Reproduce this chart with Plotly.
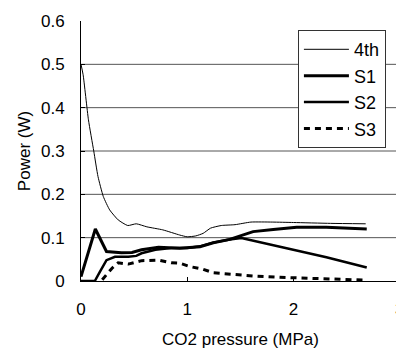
import plotly.graph_objects as go

# Data
x_4th = [0, 0.02, 0.07, 0.12, 0.16, 0.21, 0.27, 0.35, 0.44, 0.52, 0.62, 0.77, 0.93, 1.0, 1.08, 1.15,
         1.22, 1.32, 1.45, 1.6, 1.8, 2.0, 2.35, 2.68]
y_4th = [0.5, 0.476, 0.372, 0.3, 0.241, 0.195, 0.164, 0.141, 0.128, 0.132, 0.125, 0.118, 0.106, 0.102,
         0.104, 0.11, 0.122, 0.128, 0.13, 0.136, 0.136, 0.135, 0.133, 0.132]

x_s1 = [0, 0.135, 0.24, 0.38, 0.48, 0.57, 0.73, 0.93, 1.12, 1.245, 1.40, 1.50, 1.62, 1.81, 2.03, 2.31, 2.69]
y_s1 = [0.01, 0.12, 0.068, 0.065, 0.066, 0.072, 0.078, 0.0755, 0.079, 0.088, 0.096, 0.104, 0.114,
        0.119, 0.124, 0.124, 0.12]

x_s2 = [0, 0.13, 0.18, 0.24, 0.32, 0.445, 0.52, 0.57, 0.7, 0.85, 1.0, 1.12, 1.245, 1.40, 1.51, 1.72,
        1.97, 2.31, 2.69]
y_s2 = [0, 0, 0.022, 0.048, 0.056, 0.056, 0.058, 0.064, 0.072, 0.076, 0.076, 0.08, 0.089, 0.096, 0.099,
        0.087, 0.073, 0.055, 0.031]

x_s3 = [0.2, 0.226, 0.29, 0.35, 0.445, 0.57, 0.73, 0.85, 0.93, 1.03, 1.15, 1.245, 1.43, 1.62, 1.87,
        2.12, 2.4, 2.69]
y_s3 = [0.003, 0.01, 0.029, 0.042, 0.039, 0.047, 0.048, 0.042, 0.041, 0.033, 0.027, 0.019, 0.015,
        0.0115, 0.0085, 0.006, 0.004, 0.002]

y_ticks = [0, 0.1, 0.2, 0.3, 0.4, 0.5, 0.6]
y_tick_text = ["0", "0.1", "0.2", "0.3", "0.4", "0.5", "0.6"]
x_ticks = [0, 1, 2, 3]
x_tick_text = ["0", "1", "2", "3"]
grid_levels = [0.1, 0.2, 0.3, 0.4, 0.5]

FONT = "Liberation Sans, Arial, sans-serif"

fig = go.Figure()
fig.add_trace(go.Scatter(x=x_4th, y=y_4th, mode="lines", name="4th", legendgroup="a",
                         line=dict(color="black", width=1, shape="spline", smoothing=0.5)))
fig.add_trace(go.Scatter(x=x_s1, y=y_s1, mode="lines", name="S1", legendgroup="b",
                         line=dict(color="black", width=3)))
fig.add_trace(go.Scatter(x=x_s2, y=y_s2, mode="lines", name="S2", legendgroup="c",
                         line=dict(color="black", width=2.5)))
fig.add_trace(go.Scatter(x=x_s3, y=y_s3, mode="lines", name="S3", legendgroup="d",
                         line=dict(color="black", width=3, dash="6px,5px")))

for g in grid_levels:
    fig.add_shape(type="line", xref="paper", yref="y", x0=0, x1=1, y0=g, y1=g,
                  line=dict(color="#555555", width=1), layer="below")

fig.update_layout(
    width=396, height=341,
    margin=dict(l=73, r=4, t=13, b=68),
    paper_bgcolor="white", plot_bgcolor="white",
    font=dict(family=FONT, size=17, color="black"),
    showlegend=True,
    legend=dict(x=0.68, y=0.965, xanchor="left", yanchor="top",
                bordercolor="#333333", borderwidth=1, bgcolor="white",
                font=dict(size=18), tracegroupgap=9, traceorder="normal",
                itemwidth=45),
)
fig.update_xaxes(range=[0, 3.003], tickvals=x_ticks, ticktext=x_tick_text, ticks="inside", ticklen=4,
                 tickcolor="black",
                 showline=True, linecolor="black", linewidth=1, showgrid=False, zeroline=False,
                 ticklabelstandoff=13, automargin=False, ticklabeloverflow="allow",
                 title=dict(text="CO2 pressure (MPa)", standoff=15, font=dict(size=17)))
fig.update_yaxes(range=[0, 0.6], tickvals=y_ticks, ticktext=y_tick_text, ticks="inside", ticklen=4,
                 tickcolor="black", showline=True, linecolor="black", linewidth=1, showgrid=False,
                 zeroline=False, ticklabelstandoff=12, automargin=False,
                 title=dict(text="Power (W)", standoff=6, font=dict(size=17)))

fig.write_html("out.html")
